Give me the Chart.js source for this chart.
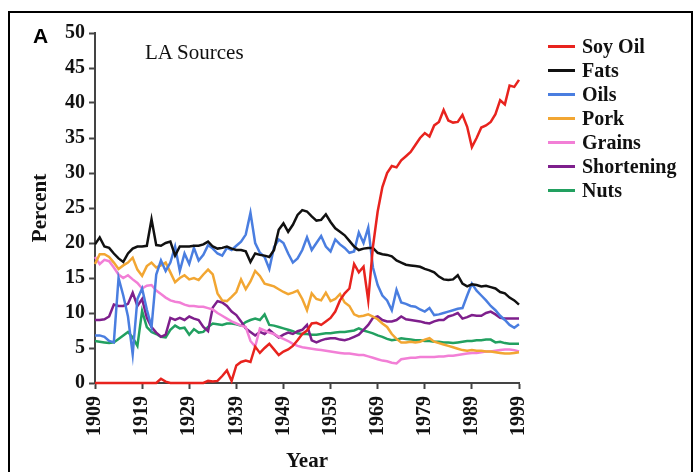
<!DOCTYPE html>
<html>
<head>
<meta charset="utf-8">
<title>LA Sources</title>
<script src="https://cdn.jsdelivr.net/npm/chart.js@4.4.0/dist/chart.umd.min.js"></script>
<style>
  body { margin: 0; background: #fff; }
  #wrap { position: relative; width: 700px; height: 472px; overflow: hidden; }
  #frame { position: absolute; left: 8px; top: 11px; width: 685px; height: 480px; border: 2px solid #000; box-sizing: border-box; }
  #panel { position: absolute; left: 33px; top: 24px; font: bold 21px "Liberation Sans", Arial, sans-serif; color: #000; }
  #note { position: absolute; left: 145px; top: 40px; font: 21px "Liberation Serif", "Times New Roman", serif; color: #111; }
  #legend { position: absolute; left: 548px; top: 34px; font: bold 20px "Liberation Serif", "Times New Roman", serif; color: #111; }
  .item { position: relative; height: 24px; line-height: 24px; }
  .item i { position: absolute; left: 0; top: 11px; width: 27px; height: 3px; }
  .item span { position: absolute; left: 34px; top: 0; white-space: nowrap; }
  canvas { position: absolute; left: 0; top: 0; }
</style>
</head>
<body>
<div id="wrap">
  <canvas id="myLineChart" width="700" height="472"></canvas>
  <div id="frame"></div>
  <div id="panel">A</div>
  <div id="note">LA Sources</div>
  <div id="legend"></div>
</div>
<script>
// yearly points 1909-1999
const years = Array.from({ length: 91 }, (_, i) => 1909 + i);
const yearTicks = [1909, 1919, 1929, 1939, 1949, 1959, 1969, 1979, 1989, 1999];

const soyOil = [
  0, 0, 0, 0, 0, 0, 0, 0, 0, 0,
  0, 0, 0, 0, 0.6, 0.2, 0, 0, 0, 0,
  0, 0, 0, 0, 0.3, 0.2, 0.3, 1.0, 1.8, 0.3,
  2.5, 3.0, 3.2, 3.0, 5.2, 4.3, 5.0, 5.6, 4.8, 4.0,
  4.5, 4.8, 5.3, 6.1, 7.0, 7.5, 8.5, 8.6, 8.3, 8.8,
  9.3, 10.2, 11.8, 12.8, 13.5, 17.0, 15.8, 16.6, 11.8, 19.5,
  24.5, 28.0, 30.0, 31.0, 30.8, 31.8, 32.4, 33.0, 34.0, 35.0,
  35.7, 35.2, 36.8, 37.3, 39.0, 37.5, 37.2, 37.3, 38.3, 36.6,
  33.7, 35.0, 36.5, 36.8, 37.3, 38.4, 40.4, 39.8, 42.5, 42.3,
  43.3
];

const fats = [
  19.8, 20.8, 19.5, 19.3, 18.5, 17.8, 17.3, 18.5, 19.2, 19.5,
  19.5, 19.6, 23.4, 19.7, 19.6, 20.0, 20.2, 18.2, 19.5, 19.5,
  19.5, 19.6, 19.6, 19.8, 20.2, 19.5, 19.2, 19.3, 19.5, 19.2,
  19.0, 19.0, 18.8, 17.3, 18.5, 18.3, 18.2, 18.0, 19.0, 21.9,
  22.8, 21.6, 22.6, 24.0, 24.7, 24.5, 23.8, 23.2, 23.3, 24.1,
  23.0, 22.1, 21.6, 21.1, 20.3, 19.5, 19.0, 19.2, 19.3, 19.3,
  18.6, 18.4, 18.3, 18.1, 17.5, 17.2, 16.9, 16.8, 16.7, 16.6,
  16.3, 16.1, 15.8, 15.2, 14.8, 14.7, 14.8, 15.4, 14.2, 13.8,
  14.1, 14.0, 13.8, 13.9, 13.7, 13.5, 13.0, 12.8, 12.2, 11.8,
  11.2
];

const oils = [
  6.8, 6.8, 6.6, 6.0, 5.8, 15.0, 12.5, 9.5, 4.1, 12.0,
  13.5, 10.5, 8.0, 15.5, 17.5, 16.0, 17.2, 19.5, 16.0, 18.5,
  17.0, 19.3, 17.5, 18.3, 19.7, 19.2, 18.5, 18.2, 19.3, 19.0,
  19.6, 20.2, 21.2, 24.3, 20.0, 18.6, 18.0, 16.3, 19.4, 20.5,
  20.0, 18.5, 17.2, 17.8, 19.0, 20.8, 19.0, 20.0, 21.0, 19.5,
  18.8, 20.5, 19.8, 19.3, 18.6, 18.8, 21.5, 20.0, 22.2, 16.5,
  14.0, 12.5, 11.8, 10.4, 13.3, 11.5, 11.3, 11.0, 10.9, 10.5,
  10.2, 10.7, 9.7, 9.8, 10.0, 10.2, 10.4, 10.6, 10.7, 12.5,
  14.2, 13.2, 12.5, 11.8, 11.0, 10.4, 9.6, 9.0, 8.3, 7.9,
  8.4
];

const pork = [
  17.0, 18.4, 18.4, 18.0, 17.2, 16.3, 16.8, 17.2, 17.9, 16.2,
  15.3, 16.7, 17.2, 16.5, 16.8, 17.2, 15.8, 14.4, 15.0, 15.4,
  14.8, 15.0, 14.7, 15.5, 16.2, 15.5, 12.8, 11.8, 11.7, 12.3,
  13.0, 14.8, 13.4, 14.5, 16.0, 15.3, 14.2, 14.0, 13.8, 13.4,
  13.0, 12.7, 12.9, 13.2, 12.0, 10.4, 12.8, 12.0, 11.8, 12.9,
  11.7, 12.0, 12.7, 11.5, 11.0, 9.8, 9.5, 9.6, 9.8, 9.5,
  9.1, 8.5, 8.0, 7.0, 6.3, 5.8, 5.8, 5.9, 5.8, 5.9,
  6.2, 6.4, 5.9, 5.7, 5.5, 5.3, 5.1, 4.9, 4.7, 4.6,
  4.7, 4.6, 4.6, 4.5, 4.5, 4.4, 4.3, 4.2, 4.2, 4.3,
  4.4
];

const grains = [
  18.0, 17.0, 17.6, 17.4, 16.5, 15.5, 15.0, 15.4, 14.8, 14.3,
  13.5, 13.9, 14.0, 13.2, 12.7, 12.2, 11.8, 11.6, 11.5, 11.2,
  11.0, 11.0, 10.9, 10.9, 10.7, 10.5, 10.0, 9.6, 9.2, 8.8,
  8.5, 8.2, 8.0, 6.0, 5.2, 7.8, 7.5, 7.2, 7.0, 6.6,
  6.3, 6.0, 5.6, 5.3, 5.1, 5.0, 4.9, 4.8, 4.7, 4.6,
  4.5, 4.4, 4.3, 4.2, 4.2, 4.1, 4.0, 4.0, 3.8, 3.6,
  3.4, 3.2, 3.1, 2.9, 2.8, 3.4, 3.5, 3.6, 3.6, 3.7,
  3.7, 3.7, 3.7, 3.8, 3.8, 3.9, 3.9, 4.0, 4.1, 4.2,
  4.3, 4.3, 4.4, 4.5, 4.5, 4.6, 4.7, 4.8, 4.8, 4.7,
  4.5
];

const shortening = [
  9.0, 9.0, 9.1, 9.5, 11.2, 11.0, 11.0, 11.3, 12.9, 11.0,
  12.0, 9.3, 8.0, 7.2, 6.6, 6.9, 9.3, 9.0, 9.3, 9.0,
  9.5, 9.2, 9.0, 8.0, 7.4, 10.8, 11.7, 11.5, 11.0, 10.2,
  9.7, 8.8, 7.8, 7.3, 6.8, 7.3, 7.0, 7.6, 7.0, 6.5,
  6.9, 7.2, 7.0, 7.4, 7.6, 8.3, 6.1, 5.8, 6.1, 6.3,
  6.4, 6.4, 6.2, 6.1, 6.3, 6.6, 6.9, 7.6, 8.3, 9.3,
  9.5, 9.0, 8.8, 8.8, 9.0, 9.5, 9.1, 9.0, 8.9, 8.8,
  8.6, 8.5, 8.8, 9.0, 9.0, 9.5, 9.7, 10.0, 9.2, 9.4,
  9.7, 9.6, 9.6, 10.0, 10.2, 9.8, 9.3, 9.2, 9.2, 9.2,
  9.2
];

const nuts = [
  6.0, 5.9, 5.8, 5.7, 5.8, 6.3, 6.8, 7.3, 6.5, 5.3,
  10.3, 8.0, 7.3, 7.0, 6.6, 6.5, 7.6, 8.2, 7.8, 7.9,
  6.9, 7.7, 7.2, 7.3, 8.0, 8.5, 8.4, 8.3, 8.5, 8.5,
  8.4, 8.2, 8.7, 9.0, 9.2, 9.0, 9.8, 8.3, 8.2, 8.0,
  7.8, 7.6, 7.4, 7.1, 7.0, 7.0, 6.9, 6.9, 7.0, 7.1,
  7.1, 7.2, 7.3, 7.3, 7.4, 7.5, 7.8, 7.5, 7.3, 7.1,
  6.8, 6.6, 6.3, 6.1, 6.2, 6.4, 6.3, 6.2, 6.1, 6.1,
  6.0, 6.0, 5.9, 5.9, 5.8, 5.8, 5.7, 5.8, 5.9, 6.0,
  6.0, 6.1, 6.1, 6.2, 6.2, 5.8, 5.9, 5.7, 5.6, 5.6,
  5.6
];

const seriesNames = ['Soy Oil', 'Fats', 'Oils', 'Pork', 'Grains', 'Shortening', 'Nuts'];
const seriesColors = ['#e8231e', '#111111', '#4a7ee0', '#f2a632', '#f27fd6', '#7e1f8c', '#22a060'];
const allSeries = [soyOil, fats, oils, pork, grains, shortening, nuts];

const serif = '"Liberation Serif", "Times New Roman", serif';

// legend on the right
const legend = document.getElementById('legend');
seriesNames.forEach((name, k) => {
  const row = document.createElement('div');
  row.className = 'item';
  row.innerHTML = '<i style="background:' + seriesColors[k] + '"></i><span>' + name + '</span>';
  legend.appendChild(row);
});

const datasets = allSeries.map((vals, k) => ({
  label: seriesNames[k],
  data: vals.map((v, i) => ({ x: years[i], y: v })),
  borderColor: seriesColors[k],
  backgroundColor: seriesColors[k],
  borderWidth: 2.5,
  pointRadius: 0,
  tension: 0,
  clip: 4
}));

const ctx = document.getElementById('myLineChart').getContext('2d');
const chart = new Chart(ctx, {
  type: 'line',
  data: { datasets: datasets },
  options: {
    responsive: false,
    animation: false,
    layout: { padding: { left: 28, right: 181, top: 33, bottom: 0 } },
    plugins: {
      legend: { display: false },
      tooltip: { enabled: false }
    },
    scales: {
      x: {
        type: 'linear',
        min: 1909,
        max: 1999,
        afterBuildTicks: axis => { axis.ticks = yearTicks.map(v => ({ value: v })); },
        afterFit: axis => { axis.height = 89; },
        ticks: {
          minRotation: 90,
          maxRotation: 90,
          padding: 7,
          color: '#111',
          font: { family: serif, size: 20, weight: 'bold' },
          callback: v => String(v)
        },
        grid: { drawOnChartArea: false, drawTicks: true, tickLength: 6, tickColor: '#444', tickWidth: 2 },
        border: { display: true, color: '#444', width: 2 },
        title: {
          display: true,
          text: 'Year',
          color: '#111',
          font: { family: serif, size: 21, weight: 'bold' },
          padding: { top: 0, bottom: -2 }
        }
      },
      y: {
        min: 0,
        max: 50,
        afterFit: axis => { axis.width = 67; },
        ticks: {
          stepSize: 5,
          padding: 4,
          color: '#111',
          font: { family: serif, size: 20, weight: 'bold' }
        },
        grid: { drawOnChartArea: false, drawTicks: true, tickLength: 6, tickColor: '#444', tickWidth: 2 },
        border: { display: true, color: '#444', width: 2 },
        title: {
          display: true,
          text: 'Percent',
          color: '#111',
          font: { family: serif, size: 21, weight: 'bold' },
          padding: 0
        }
      }
    }
  }
});
</script>
</body>
</html>
